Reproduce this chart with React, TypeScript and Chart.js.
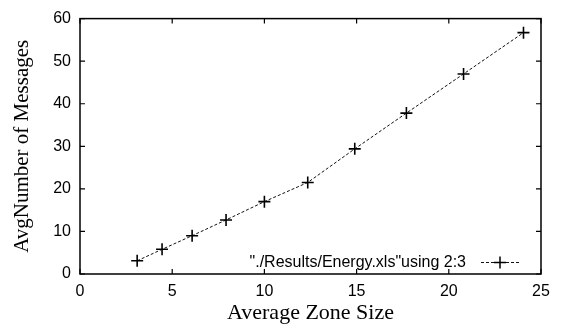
import React, { useEffect, useRef } from "react";
import { Chart, registerables } from "chart.js";

Chart.register(...registerables);

const zoneSizes = [3.1, 4.45, 6.08, 7.92, 10.0, 12.35, 14.9, 17.7, 20.8, 24.05];
const avgMessages = [3.1, 5.8, 9.0, 12.7, 17.0, 21.5, 29.4, 37.8, 47.0, 56.7];
const xTicks = [0, 5, 10, 15, 20, 25];
const yTicks = [0, 10, 20, 30, 40, 50, 60];
const seriesLabel = '"./Results/Energy.xls"using 2:3';
const xTitle = "Average Zone Size";
const yTitle = "AvgNumber of Messages";

const SANS = '"Liberation Sans", Arial, sans-serif';
const SERIF = '"Liberation Serif", "Times New Roman", serif';

const framePlugin = {
  id: "gnuplotFrame",
  afterDatasetsDraw(chart: any) {
    const { ctx, chartArea, scales } = chart;
    const { left, right, top, bottom } = chartArea;
    ctx.save();
    ctx.strokeStyle = "#000";
    ctx.lineWidth = 1.5;
    ctx.setLineDash([]);
    ctx.strokeRect(left, top, right - left, bottom - top);
    const tl = 5;
    ctx.lineWidth = 1.2;
    ctx.beginPath();
    for (const v of xTicks) {
      const x = scales.x.getPixelForValue(v);
      ctx.moveTo(x, bottom);
      ctx.lineTo(x, bottom - tl);
      ctx.moveTo(x, top);
      ctx.lineTo(x, top + tl);
    }
    for (const v of yTicks) {
      const y = scales.y.getPixelForValue(v);
      ctx.moveTo(left, y);
      ctx.lineTo(left + tl, y);
      ctx.moveTo(right, y);
      ctx.lineTo(right - tl, y);
    }
    ctx.stroke();
    ctx.restore();
  },
};

const legendPlugin = {
  id: "gnuplotLegend",
  afterDraw(chart: any) {
    const { ctx, chartArea } = chart;
    const ds = chart.data.datasets[0];
    const y = chartArea.bottom - 11.5;
    const sampleEnd = chartArea.right - 22;
    const sampleStart = chartArea.right - 60;
    ctx.save();
    ctx.font = `16px ${SANS}`;
    ctx.fillStyle = "#000";
    ctx.textAlign = "right";
    ctx.textBaseline = "middle";
    ctx.fillText(ds.label, chartArea.right - 75, y);
    ctx.strokeStyle = ds.borderColor;
    ctx.lineWidth = ds.borderWidth;
    ctx.setLineDash(ds.borderDash);
    ctx.beginPath();
    ctx.moveTo(sampleStart, y);
    ctx.lineTo(sampleEnd, y);
    ctx.stroke();
    ctx.setLineDash([]);
    ctx.strokeStyle = "#000";
    ctx.lineWidth = 1.5;
    const cx = (sampleStart + sampleEnd) / 2;
    const r = ds.pointRadius;
    ctx.beginPath();
    ctx.moveTo(cx - r, y);
    ctx.lineTo(cx + r, y);
    ctx.moveTo(cx, y - r);
    ctx.lineTo(cx, y + r);
    ctx.stroke();
    ctx.restore();
  },
};

export default function App() {
  const ref = useRef<HTMLCanvasElement | null>(null);

  useEffect(() => {
    if (!ref.current) return;
    const chart = new Chart(ref.current, {
      type: "line",
      data: {
        datasets: [
          {
            label: seriesLabel,
            data: zoneSizes.map((x, i) => ({ x, y: avgMessages[i] })),
            borderColor: "#111",
            borderWidth: 1,
            borderDash: [3, 2],
            pointStyle: "cross",
            pointRadius: 6,
            pointBorderWidth: 1.6,
            pointBorderColor: "#000",
            pointBackgroundColor: "#000",
            fill: false,
            tension: 0,
          },
        ],
      },
      options: {
        responsive: false,
        animation: false,
        layout: { padding: { top: 15, right: 20, bottom: 3, left: 10 } },
        plugins: {
          legend: { display: false },
          tooltip: { enabled: false },
        },
        scales: {
          x: {
            type: "linear",
            min: 0,
            max: 25,
            afterBuildTicks: (s: any) => {
              s.ticks = xTicks.map((v) => ({ value: v }));
            },
            afterFit: (s: any) => {
              s.height = 52;
            },
            grid: { display: false, drawTicks: false },
            border: { display: false },
            ticks: {
              padding: 8,
              color: "#000",
              font: { family: SANS, size: 16 },
              maxRotation: 0,
            },
            title: {
              display: true,
              text: xTitle,
              color: "#000",
              font: { family: SERIF, size: 22 },
              padding: 0,
            },
          },
          y: {
            type: "linear",
            min: 0,
            max: 60,
            afterBuildTicks: (s: any) => {
              s.ticks = yTicks.map((v) => ({ value: v }));
            },
            afterFit: (s: any) => {
              s.width = 70;
            },
            grid: { display: false, drawTicks: false },
            border: { display: false },
            ticks: {
              padding: 9,
              color: "#000",
              font: { family: SANS, size: 16 },
            },
            title: {
              display: true,
              text: yTitle,
              color: "#000",
              font: { family: SERIF, size: 21 },
              padding: 0,
            },
          },
        },
      },
      plugins: [framePlugin, legendPlugin],
    } as any);
    return () => chart.destroy();
  }, []);

  return (
    <div style={{ position: "absolute", left: 0, top: 0, width: 561, height: 329, background: "#fff" }}>
      <canvas ref={ref} width={561} height={329} />
    </div>
  );
}
